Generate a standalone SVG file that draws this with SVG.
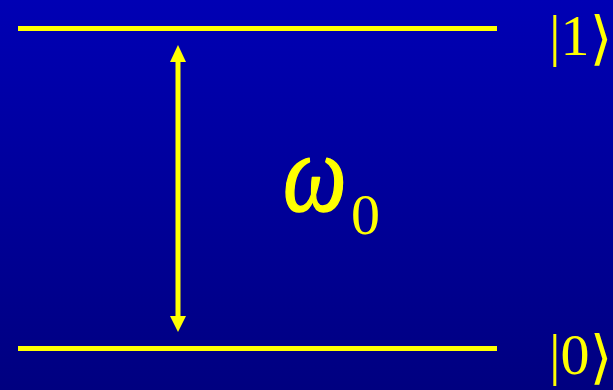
<svg xmlns="http://www.w3.org/2000/svg" width="613" height="390" viewBox="0 0 613 390">
<defs>
<linearGradient id="bg" x1="0" y1="0" x2="0" y2="1">
<stop offset="0" stop-color="#0000b4"/>
<stop offset="1" stop-color="#000080"/>
</linearGradient>
<style>
.lvl{stroke:#ffff00;stroke-width:5;fill:none}
.t{fill:#ffff00;font-family:"Liberation Serif","Times New Roman",serif}
.br{font-family:"DejaVu Serif",serif;font-size:58px}
</style>
</defs>
<rect width="613" height="390" fill="url(#bg)"/>
<g id="level1"><line class="lvl" x1="18" y1="28.5" x2="497" y2="28.5"/>
<text class="t" x="549" y="55" font-size="58">|1<tspan class="br" dy="3">⟩</tspan></text></g>
<g id="level0"><line class="lvl" x1="18" y1="348.5" x2="497" y2="348.5"/>
<text class="t" x="549" y="374" font-size="58">|0<tspan class="br" dy="3">⟩</tspan></text></g>
<g id="connectors">
<line x1="178" y1="62" x2="178" y2="316" stroke="#ffff00" stroke-width="5"/>
<path d="M170,62 L178,45 L186,62 Z" fill="#ffff00"/>
<path d="M170,316 L178,332 L186,316 Z" fill="#ffff00"/>
</g>
<g id="label">
<text class="t" transform="translate(283,211) scale(1,1.25)" font-size="90" font-style="italic" font-family="DejaVu Serif,serif" stroke="#ffff00" stroke-width="1.2" stroke-linejoin="round">ω</text>
<text class="t" x="351" y="234" font-size="58">0</text>
</g>
</svg>
